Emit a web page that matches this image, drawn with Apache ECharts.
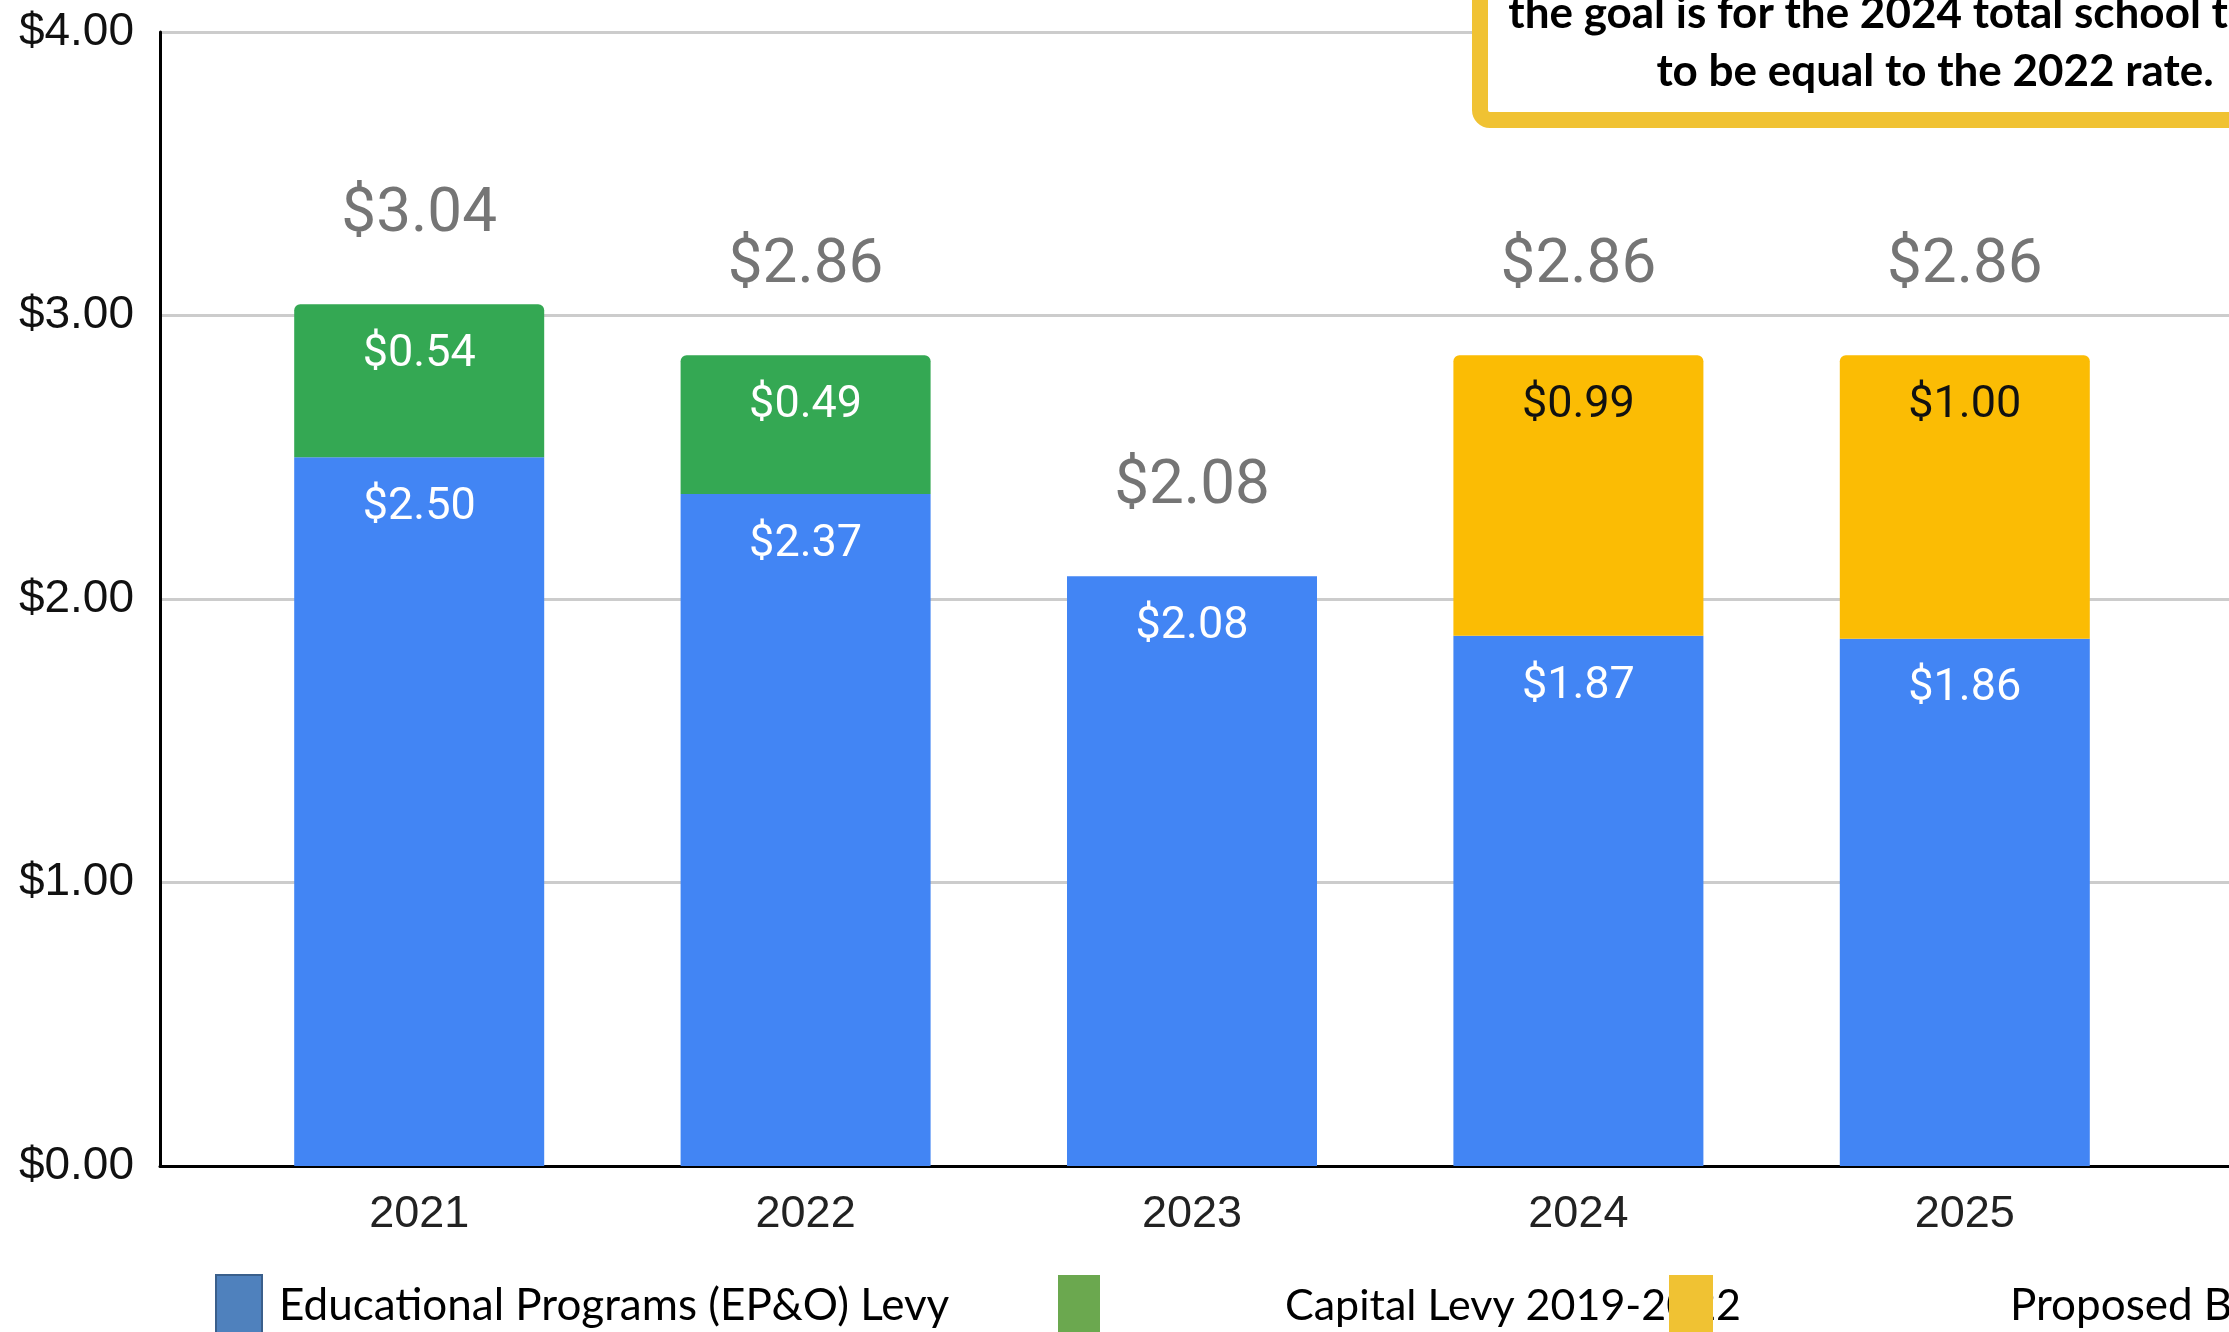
<!DOCTYPE html>
<html><head><meta charset="utf-8">
<script src="https://cdn.jsdelivr.net/npm/echarts@6/dist/echarts.min.js"></script>
<style>html,body{margin:0;padding:0;background:#fff;overflow:hidden}#c{width:2229px;height:1332px}</style>
</head><body><div id="c"></div>
<script>
const years = ['2021', '2022', '2023', '2024', '2025'];
const epoLevy = [2.50, 2.37, 2.08, 1.87, 1.86];
const capitalLevy = [0.54, 0.49, '-', '-', '-'];
const proposedBond = ['-', '-', '-', 0.99, 1.00];
const yTicks = [0, 1, 2, 3, 4];
const seriesNames = ['Educational Programs (EP&O) Levy', 'Capital Levy 2019-2022', 'Proposed Bond'];
const noteLines = ['the goal is for the 2024 total school tax rate', 'to be equal to the 2022 rate.'];

const totals = years.map((_, i) => [epoLevy, capitalLevy, proposedBond]
  .reduce((s, a) => s + (typeof a[i] === 'number' ? a[i] : 0), 0));
const money = v => '$' + Number(v).toFixed(2);

const chart = echarts.init(document.getElementById('c'), null, { renderer: 'canvas' });

const innerLabel = (color) => ({
  show: true, position: 'insideTop', distance: 28,
  color: color, fontFamily: 'Roboto', fontSize: 45, lineHeight: 45,
  formatter: p => money(p.value)
});

const option = {
  backgroundColor: '#ffffff',
  animation: false,
  grid: [
    { left: 160, right: -40, top: 32, bottom: 166 },
    { left: 226, right: 71, top: 32, bottom: 166 }
  ],
  xAxis: [
    { type: 'value', gridIndex: 0, min: 0, max: 1,
      axisLine: { show: true, onZero: false, lineStyle: { color: '#000', width: 3 } },
      axisTick: { show: false }, axisLabel: { show: false }, splitLine: { show: false } },
    { type: 'category', gridIndex: 1, data: years,
      axisLine: { show: false }, axisTick: { show: false },
      axisLabel: { margin: 26, color: '#222', fontFamily: 'Liberation Sans', fontSize: 45 } }
  ],
  yAxis: [
    { type: 'value', gridIndex: 0, min: yTicks[0], max: yTicks[yTicks.length - 1], interval: 1,
      axisLine: { show: true, lineStyle: { color: '#000', width: 3 } },
      axisTick: { show: false },
      axisLabel: { margin: 26, color: '#111', fontFamily: 'Liberation Sans', fontSize: 46, formatter: v => money(v) },
      splitLine: { show: true, lineStyle: { color: '#cccccc', width: 3 } } },
    { type: 'value', gridIndex: 1, min: yTicks[0], max: yTicks[yTicks.length - 1], interval: 1, show: false,
      splitLine: { show: false } }
  ],
  series: [
    { name: seriesNames[0], type: 'bar', stack: 'tax', xAxisIndex: 1, yAxisIndex: 1,
      barWidth: 250, data: epoLevy, itemStyle: { color: '#4285F4' }, label: innerLabel('#ffffff') },
    { name: seriesNames[1], type: 'bar', stack: 'tax', xAxisIndex: 1, yAxisIndex: 1,
      barWidth: 250, data: capitalLevy, itemStyle: { color: '#34A853', borderRadius: [6, 6, 0, 0] }, label: innerLabel('#ffffff') },
    { name: seriesNames[2], type: 'bar', stack: 'tax', xAxisIndex: 1, yAxisIndex: 1,
      barWidth: 250, data: proposedBond, itemStyle: { color: '#FBBC04', borderRadius: [6, 6, 0, 0] }, label: innerLabel('#111111') },
    { name: 'Total', type: 'bar', stack: 'tax', xAxisIndex: 1, yAxisIndex: 1,
      barWidth: 250, data: years.map(() => 0), itemStyle: { color: 'rgba(0,0,0,0)' },
      label: { show: true, position: 'top', distance: 58, color: '#757575',
        fontFamily: 'Roboto', fontSize: 62, lineHeight: 62,
        formatter: p => money(totals[p.dataIndex]) } }
  ],
  graphic: [
    // annotation box
    { type: 'rect', z: 100, shape: { x: 1480, y: -80, width: 900, height: 200, r: 10 },
      style: { fill: '#ffffff', stroke: '#F0C233', lineWidth: 16 } },
    { type: 'text', z: 101, x: 1935, y: 36,
      style: { text: noteLines[0], fill: '#000', font: 'bold 44px Lato', textAlign: 'center', textVerticalAlign: 'bottom' } },
    { type: 'text', z: 101, x: 1935, y: 94,
      style: { text: noteLines[1], fill: '#000', font: 'bold 44px Lato', textAlign: 'center', textVerticalAlign: 'bottom' } },
    // legend
    { type: 'text', z: 100, x: 279, y: 1306,
      style: { text: seriesNames[0], fill: '#000', font: '44px Lato', textAlign: 'left', textVerticalAlign: 'middle' } },
    { type: 'text', z: 100, x: 1285, y: 1306,
      style: { text: seriesNames[1], fill: '#000', font: '43px Lato', textAlign: 'left', textVerticalAlign: 'middle' } },
    { type: 'text', z: 100, x: 2010, y: 1306,
      style: { text: seriesNames[2], fill: '#000', font: '44px Lato', textAlign: 'left', textVerticalAlign: 'middle' } },
    { type: 'rect', z: 101, shape: { x: 216, y: 1275, width: 46, height: 80 },
      style: { fill: '#4F81BD', stroke: '#3A5F8B', lineWidth: 2 } },
    { type: 'rect', z: 101, shape: { x: 1058, y: 1275, width: 42, height: 80 },
      style: { fill: '#6BA84F' } },
    { type: 'rect', z: 101, shape: { x: 1669, y: 1275, width: 44, height: 80 },
      style: { fill: '#F0C233' } }
  ]
};
chart.setOption(option);
</script>
</body></html>
